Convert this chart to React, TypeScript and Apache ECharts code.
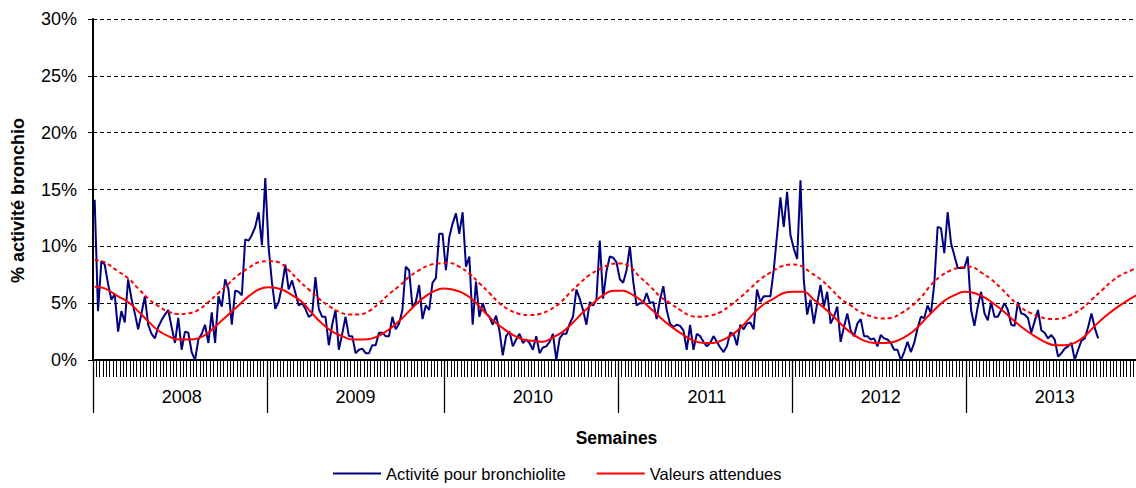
import React, { useEffect, useRef } from "react";
import * as echarts from "echarts";

const years = ["2008", "2009", "2010", "2011", "2012", "2013"];
const weeksPerYear = [52, 53, 52, 52, 52, 52];

const activity2008 = [
  14.1, 4.3, 8.7, 8.4, 6.7, 5.3, 5.8, 2.5, 4.3, 3.3,
  7.1, 5.4, 4.1, 2.7, 4.1, 5.6, 3.1, 2.3, 1.9, 2.9,
  3.5, 4.0, 4.4, 2.9, 1.5, 3.7, 0.9, 2.5, 2.4, 0.7,
  0.0, 1.8, 2.3, 3.1, 1.5, 4.2, 1.5, 5.6, 4.7, 7.1,
  6.2, 3.1, 6.1, 6.0, 5.7, 10.6, 10.5, 11.0, 11.7, 13.0,
  10.1, 16.0,
];
const activity2009 = [
  9.9, 6.8, 4.5, 5.1, 6.5, 8.4, 6.2, 7.0, 5.9, 4.8,
  5.0, 4.5, 3.8, 4.0, 7.3, 4.5, 3.8, 3.8, 1.3, 3.1,
  4.4, 0.9, 2.3, 3.8, 2.1, 2.1, 0.6, 0.9, 1.0, 0.6,
  0.6, 1.3, 1.3, 2.4, 2.4, 2.1, 2.1, 3.8, 2.7, 3.2,
  4.4, 8.2, 7.9, 4.7, 5.1, 6.6, 3.6, 4.8, 4.4, 6.8,
  7.2, 11.1, 11.1,
];
const activity2010 = [
  7.9, 10.8, 12.0, 12.9, 11.1, 13.0, 8.2, 9.1, 3.1, 6.9,
  3.8, 5.0, 4.1, 3.8, 3.1, 3.9, 2.6, 0.4, 2.1, 2.5,
  1.2, 1.8, 2.3, 1.5, 1.8, 1.5, 0.9, 2.1, 0.6, 1.1,
  1.2, 1.6, 2.3, 0.0, 1.9, 2.3, 2.3, 3.2, 3.8, 6.2,
  5.4, 4.4, 3.1, 5.1, 4.8, 5.3, 10.5, 5.4, 7.8, 9.1,
  9.0, 8.6,
];
const activity2011 = [
  7.1, 6.8, 7.9, 10.0, 6.9, 4.8, 5.0, 5.0, 5.9, 5.0,
  5.1, 3.6, 5.3, 6.5, 4.4, 3.2, 2.9, 3.1, 3.0, 2.6,
  0.9, 3.1, 0.9, 2.3, 2.1, 1.6, 1.2, 1.5, 2.1, 1.6,
  1.1, 0.7, 1.2, 2.4, 2.3, 1.3, 3.1, 2.7, 3.2, 3.3,
  2.7, 6.2, 5.1, 5.6, 5.6, 5.6, 7.9, 11.0, 14.3, 11.7,
  14.8, 11.0,
];
const activity2012 = [
  9.8, 8.9, 15.8, 7.0, 4.0, 5.3, 3.2, 5.0, 6.6, 4.7,
  6.0, 3.2, 3.8, 4.7, 1.6, 2.9, 4.1, 2.6, 2.1, 3.2,
  3.6, 2.1, 2.1, 1.8, 1.9, 1.2, 2.2, 1.9, 1.8, 1.5,
  0.9, 0.9, 0.0, 0.7, 1.6, 0.7, 1.5, 2.8, 3.8, 3.7,
  4.8, 4.1, 6.7, 11.7, 11.6, 9.4, 13.0, 10.3, 9.2, 8.1,
  8.1, 8.1,
];
const activity2013 = [
  9.1, 4.4, 3.0, 4.7, 6.0, 4.1, 3.5, 5.1, 3.8, 3.8,
  4.4, 5.0, 4.4, 3.1, 3.0, 5.1, 4.1, 4.0, 3.7, 2.4,
  3.4, 4.4, 2.6, 2.4, 1.9, 2.2, 1.8, 0.3, 0.6, 1.0,
  1.2, 1.5, 0.0, 0.9, 1.7, 1.9, 2.9, 4.1, 2.8, 1.9,
];

// [week index, value]
const expected: [number, number][] = [
  [0, 6.45], [3, 6.3], [7, 5.6], [10, 5.1], [13, 4.3], [16, 3.4], [19, 2.6], [22, 2.1],
  [25, 1.8], [28, 1.8], [31, 1.9], [34, 2.4], [37, 3.2], [40, 4.0], [43, 4.8], [46, 5.6],
  [49, 6.2], [52, 6.4], [56, 6.2], [59, 5.7], [62, 5.1], [65, 4.1], [68, 3.2], [71, 2.5],
  [74, 2.1], [77, 1.8], [80, 1.8], [83, 1.9], [86, 2.3], [89, 2.9], [92, 3.7], [95, 4.6],
  [98, 5.4], [101, 6.0], [104, 6.3], [107, 6.2], [110, 5.9], [113, 5.3], [116, 4.4],
  [119, 3.5], [122, 2.8], [125, 2.2], [128, 1.8], [131, 1.7], [134, 1.6], [137, 2.0],
  [140, 2.5], [143, 3.3], [146, 4.2], [149, 5.0], [152, 5.7], [155, 6.1], [158, 6.1],
  [161, 5.7], [164, 5.1], [167, 4.3], [170, 3.5], [173, 2.8], [176, 2.2], [179, 1.7],
  [182, 1.5], [185, 1.5], [188, 1.8], [191, 2.3], [194, 3.1], [197, 4.1], [200, 4.9],
  [203, 5.4], [206, 5.9], [209, 6.0], [212, 6.0], [215, 5.3], [218, 4.6], [221, 3.8],
  [224, 2.9], [227, 2.2], [230, 1.7], [233, 1.5], [236, 1.5], [239, 1.6], [242, 2.0],
  [245, 2.6], [248, 3.5], [251, 4.4], [254, 5.2], [257, 5.7], [260, 6.0], [263, 5.9],
  [266, 5.5], [269, 4.9], [272, 4.2], [275, 3.4], [278, 2.7], [281, 2.1], [284, 1.6],
  [287, 1.3], [290, 1.3], [293, 1.5], [296, 2.1], [299, 3.0], [302, 3.8], [305, 4.5],
  [308, 5.1], [312, 5.8],
];

const upperLimit: [number, number][] = [
  [0, 8.8], [3, 8.6], [7, 7.8], [10, 7.2], [13, 6.3], [16, 5.4], [19, 4.75], [22, 4.25],
  [25, 4.05], [28, 4.1], [31, 4.4], [34, 5.1], [37, 5.9], [40, 6.7], [43, 7.5], [46, 8.1],
  [49, 8.6], [52, 8.7], [55, 8.6], [58, 7.9], [61, 7.0], [64, 6.2], [67, 5.4], [70, 4.75],
  [73, 4.25], [76, 4.0], [79, 4.0], [82, 4.3], [85, 5.0], [88, 5.8], [91, 6.5], [94, 7.3],
  [97, 7.9], [100, 8.35], [103, 8.5], [106, 8.55], [109, 8.2], [112, 7.6], [115, 6.75],
  [118, 5.9], [121, 5.0], [124, 4.4], [127, 4.05], [130, 3.95], [133, 4.05], [136, 4.4],
  [139, 5.0], [142, 5.9], [145, 6.75], [148, 7.5], [151, 8.0], [154, 8.4], [157, 8.5],
  [160, 8.2], [163, 7.3], [166, 6.5], [169, 5.6], [172, 5.0], [175, 4.4], [178, 3.9],
  [181, 3.8], [184, 3.9], [187, 4.2], [190, 4.8], [193, 5.5], [196, 6.3], [199, 7.1],
  [202, 7.7], [205, 8.2], [208, 8.4], [211, 8.3], [214, 7.7], [217, 7.1], [220, 6.3],
  [223, 5.4], [226, 4.8], [229, 4.2], [232, 3.85], [235, 3.65], [238, 3.7], [241, 4.1],
  [244, 4.7], [247, 5.5], [250, 6.6], [253, 7.4], [256, 7.9], [259, 8.15], [262, 8.2],
  [265, 7.7], [268, 7.1], [271, 6.3], [274, 5.4], [277, 4.6], [280, 4.1], [283, 3.75],
  [286, 3.6], [289, 3.65], [292, 4.0], [295, 4.5], [298, 5.3], [301, 6.1], [304, 6.9],
  [307, 7.5], [310, 7.9], [312, 8.2],
];

const FONT = "'Liberation Sans', Arial, sans-serif";

export default function App() {
  const ref = useRef<HTMLDivElement>(null);

  useEffect(() => {
    const weeks: string[] = [];
    const yearStart: number[] = [];
    const yearMid: number[] = [];
    years.forEach((y, k) => {
      yearStart.push(weeks.length);
      yearMid.push(weeks.length + Math.floor(weeksPerYear[k] / 2));
      for (let w = 1; w <= weeksPerYear[k]; w++) {
        weeks.push(`${y}-S${String(w).padStart(2, "0")}`);
      }
    });
    const activity = [
      ...activity2008, ...activity2009, ...activity2010,
      ...activity2011, ...activity2012, ...activity2013,
    ];

    const chart = echarts.init(ref.current!, null, { renderer: "svg" });
    chart.setOption({
      animation: false,
      textStyle: { fontFamily: FONT },
      grid: { left: 93, top: 19, width: 1047, height: 341 },
      legend: {
        left: 328,
        top: 460,
        icon: "rect",
        itemWidth: 48,
        itemHeight: 2,
        itemGap: 31,
        data: ["Activité pour bronchiolite", "Valeurs attendues"],
        textStyle: { fontFamily: FONT, fontSize: 16.5, color: "#000" },
      },
      xAxis: [
        {
          type: "category",
          data: weeks,
          boundaryGap: true,
          axisLine: { show: true, lineStyle: { color: "#000", width: 2 } },
          axisTick: { show: true, interval: 0, length: 17, lineStyle: { color: "#000", width: 1 } },
          axisLabel: { show: false },
          splitLine: { show: false },
        },
        {
          type: "category",
          data: weeks,
          position: "bottom",
          boundaryGap: true,
          axisLine: { show: false },
          axisTick: {
            show: true,
            length: 53,
            interval: (index: number) => yearStart.includes(index),
            lineStyle: { color: "#000", width: 1.3 },
          },
          axisLabel: {
            interval: (index: number) => yearMid.includes(index),
            formatter: (v: string) => v.slice(0, 4),
            margin: 28,
            fontSize: 18,
            color: "#000",
            fontFamily: FONT,
          },
          name: "Semaines",
          nameLocation: "middle",
          nameGap: 69,
          nameTextStyle: { fontSize: 17.5, fontWeight: "bold", color: "#000", fontFamily: FONT },
          splitLine: { show: false },
        },
      ],
      yAxis: {
        type: "value",
        min: 0,
        max: 30,
        interval: 5,
        axisLine: { show: true, lineStyle: { color: "#000", width: 2 } },
        axisTick: { show: true, length: 5, lineStyle: { color: "#000", width: 1 } },
        axisLabel: {
          formatter: "{value}%",
          margin: 16,
          fontSize: 18,
          color: "#000",
          fontFamily: FONT,
        },
        splitLine: { show: true, lineStyle: { color: "#000", type: [4, 3], width: 1 } },
        name: "% activité bronchio",
        nameLocation: "middle",
        nameGap: 66,
        nameTextStyle: {
          fontSize: 18,
          fontWeight: "bold",
          color: "#000",
          fontFamily: FONT,
          padding: [0, 22, 0, 0],
        },
      },
      series: [
        {
          name: "Activité pour bronchiolite",
          type: "line",
          xAxisIndex: 0,
          data: activity,
          symbol: "none",
          color: "#000080",
          lineStyle: { color: "#000080", width: 2 },
        },
        {
          name: "Valeurs attendues",
          type: "line",
          xAxisIndex: 0,
          data: expected,
          symbol: "none",
          smooth: 0.4,
          color: "#ff0000",
          lineStyle: { color: "#ff0000", width: 2 },
        },
        {
          name: "Seuil",
          type: "line",
          xAxisIndex: 0,
          data: upperLimit,
          symbol: "none",
          smooth: 0.4,
          color: "#ff0000",
          lineStyle: { color: "#ff0000", width: 2, type: [4, 3] },
        },
      ],
    });
    return () => chart.dispose();
  }, []);

  return (
    <div
      ref={ref}
      style={{
        position: "fixed",
        left: 0,
        top: 0,
        width: 1141,
        height: 488,
        overflow: "hidden",
        background: "#fff",
      }}
    />
  );
}
